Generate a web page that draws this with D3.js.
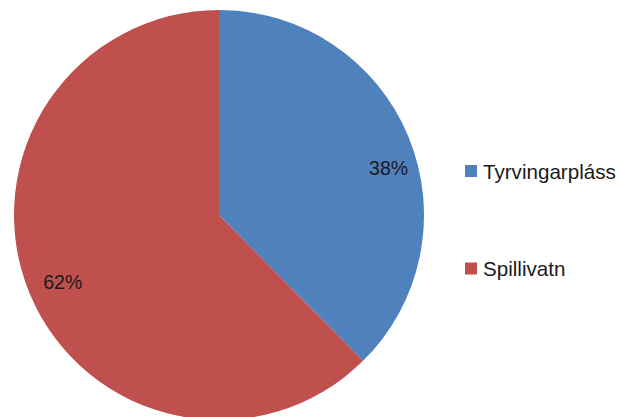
<!DOCTYPE html>
<html>
<head>
<meta charset="utf-8">
<script src="https://cdn.jsdelivr.net/npm/d3@7"></script>
<style>
body{margin:0;background:#fff;}
svg{display:block;}
text{font-family:"Liberation Sans",Arial,sans-serif;}
</style>
</head>
<body>
<div id="chart"></div>
<script>
var categories=["Tyrvingarpláss","Spillivatn"];
var values=[37.6,62.4];
var colors=["#4F81BD","#C0504D"];

var width=619,height=417;
var cx=219,cy=215,radius=205;

var svg=d3.select("#chart").append("svg").attr("width",width).attr("height",height);
var g=svg.append("g").attr("transform","translate("+cx+","+cy+")");

var pie=d3.pie().sort(null).value(d=>d);
var arc=d3.arc().innerRadius(0).outerRadius(radius);
var arcs=pie(values);
var total=d3.sum(values);

g.selectAll("path").data(arcs).enter().append("path")
.attr("d",arc)
.attr("fill",(d,i)=>colors[i]);

// label placement (polar, degrees clockwise from top)
var labelPos=[{a:74.5,r:176},{a:246.8,r:170}];
g.selectAll("text.lbl").data(arcs).enter().append("text")
.attr("class","lbl")
.attr("x",(d,i)=>labelPos[i].r*Math.sin(labelPos[i].a*Math.PI/180))
.attr("y",(d,i)=>-labelPos[i].r*Math.cos(labelPos[i].a*Math.PI/180)+7)
.attr("text-anchor","middle")
.attr("font-size","19.5px")
.attr("fill","#1a1a1a")
.text(d=>Math.round(d.value/total*100)+"%");

var legend=svg.append("g");
var legY=[171,268.5];
var item=legend.selectAll("g").data(categories).enter().append("g")
.attr("transform",(d,i)=>"translate(465,"+legY[i]+")");
item.append("rect").attr("x",0).attr("y",-6).attr("width",12).attr("height",12)
.attr("fill",(d,i)=>colors[i]);
item.append("text").attr("x",18).attr("y",7.5)
.attr("font-size","20.6px").attr("fill","#1a1a1a")
.text(d=>d);
</script>
</body>
</html>
